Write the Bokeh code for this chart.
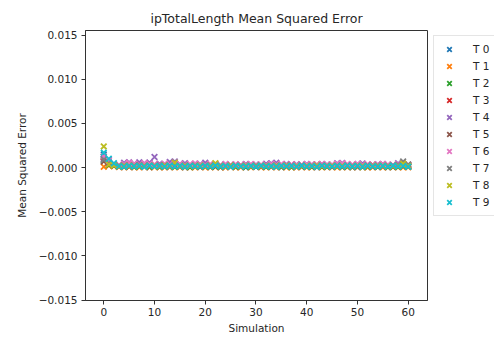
from bokeh.plotting import figure
from bokeh.layouts import row
from bokeh.models import Range1d, FixedTicker, CustomJSTickFormatter, Legend, LegendItem
from bokeh.embed import file_html
from bokeh.resources import INLINE

simulation = list(range(61))
labels = ["T 0", "T 1", "T 2", "T 3", "T 4", "T 5", "T 6", "T 7", "T 8", "T 9"]
colors = ["#1f77b4", "#ff7f0e", "#2ca02c", "#d62728", "#9467bd",
          "#8c564b", "#e377c2", "#7f7f7f", "#bcbd22", "#17becf"]

t0 = [0.00150, 0.00060, 0.00030, 0.00012, 0.00008, 0.00010, 0.00006, 0.00011, 0.00009, 0.00005,
      0.00012, 0.00007, 0.00010, 0.00006, 0.00009, 0.00011, 0.00004, 0.00008, 0.00010, 0.00006,
      0.00009, 0.00007, 0.00012, 0.00005, 0.00008, 0.00010, 0.00006, 0.00009, 0.00004, 0.00011,
      0.00008, 0.00006, 0.00010, 0.00007, 0.00009, 0.00005, 0.00012, 0.00008, 0.00006, 0.00010,
      0.00007, 0.00009, 0.00004, 0.00011, 0.00008, 0.00006, 0.00010, 0.00007, 0.00009, 0.00005,
      0.00008, 0.00011, 0.00006, 0.00009, 0.00007, 0.00010, 0.00005, 0.00008, 0.00006, 0.00012,
      0.00009]
t1 = [0.00010, 0.00020, 0.00015, 0.00006, 0.00004, 0.00008, 0.00005, 0.00003, 0.00007, 0.00004,
      0.00006, 0.00003, 0.00005, 0.00008, 0.00004, 0.00006, 0.00003, 0.00005, 0.00004, 0.00007,
      0.00003, 0.00005, 0.00006, 0.00004, 0.00003, 0.00007, 0.00005, 0.00004, 0.00006, 0.00003,
      0.00025, 0.00005, 0.00004, 0.00006, 0.00003, 0.00007, 0.00004, 0.00005, 0.00003, 0.00006,
      0.00004, 0.00005, 0.00007, 0.00003, 0.00006, 0.00004, 0.00005, 0.00003, 0.00007, 0.00004,
      0.00006, 0.00005, 0.00003, 0.00004, 0.00007, 0.00005, 0.00004, 0.00006, 0.00003, 0.00005,
      0.00004]
t2 = [0.00080, 0.00030, 0.00022, 0.00015, 0.00012, 0.00018, 0.00010, 0.00014, 0.00020, 0.00011,
      0.00016, 0.00009, 0.00013, 0.00017, 0.00010, 0.00015, 0.00012, 0.00008, 0.00014, 0.00011,
      0.00016, 0.00010, 0.00013, 0.00009, 0.00015, 0.00012, 0.00010, 0.00014, 0.00008, 0.00013,
      0.00011, 0.00016, 0.00009, 0.00012, 0.00014, 0.00010, 0.00013, 0.00008, 0.00015, 0.00011,
      0.00012, 0.00009, 0.00014, 0.00010, 0.00013, 0.00011, 0.00016, 0.00009, 0.00012, 0.00010,
      0.00014, 0.00008, 0.00013, 0.00011, 0.00010, 0.00015, 0.00009, 0.00012, 0.00010, 0.00014,
      0.00011]
t3 = [0.00120, 0.00050, 0.00035, 0.00020, 0.00030, 0.00045, 0.00025, 0.00040, 0.00030, 0.00050,
      0.00028, 0.00035, 0.00022, 0.00038, 0.00030, 0.00025, 0.00042, 0.00020, 0.00033, 0.00028,
      0.00036, 0.00024, 0.00030, 0.00021, 0.00034, 0.00026, 0.00030, 0.00023, 0.00037, 0.00025,
      0.00029, 0.00022, 0.00035, 0.00027, 0.00031, 0.00024, 0.00020, 0.00033, 0.00026, 0.00030,
      0.00023, 0.00028, 0.00035, 0.00021, 0.00030, 0.00026, 0.00032, 0.00024, 0.00029, 0.00022,
      0.00031, 0.00025, 0.00028, 0.00033, 0.00021, 0.00027, 0.00030, 0.00024, 0.00029, 0.00045,
      0.00026]
t4 = [0.00100, 0.00090, 0.00040, 0.00030, 0.00055, 0.00060, 0.00045, 0.00060, 0.00050, 0.00058,
      0.00120, 0.00045, 0.00035, 0.00065, 0.00070, 0.00040, 0.00050, 0.00030, 0.00045, 0.00040,
      0.00055, 0.00035, 0.00042, 0.00030, 0.00038, 0.00028, 0.00035, 0.00030, 0.00040, 0.00032,
      0.00036, 0.00030, 0.00045, 0.00050, 0.00055, 0.00035, 0.00040, 0.00032, 0.00038, 0.00030,
      0.00042, 0.00035, 0.00030, 0.00040, 0.00036, 0.00032, 0.00050, 0.00052, 0.00035, 0.00030,
      0.00040, 0.00048, 0.00036, 0.00030, 0.00038, 0.00042, 0.00033, 0.00030, 0.00050, 0.00036,
      0.00032]
t5 = [0.00070, 0.00040, 0.00025, 0.00018, 0.00022, 0.00015, 0.00020, 0.00025, 0.00017, 0.00021,
      0.00030, 0.00016, 0.00022, 0.00019, 0.00024, 0.00015, 0.00020, 0.00018, 0.00023, 0.00016,
      0.00021, 0.00019, 0.00017, 0.00022, 0.00015, 0.00020, 0.00018, 0.00023, 0.00016, 0.00021,
      0.00019, 0.00017, 0.00022, 0.00020, 0.00015, 0.00024, 0.00018, 0.00021, 0.00016, 0.00019,
      0.00022, 0.00017, 0.00020, 0.00018, 0.00023, 0.00016, 0.00021, 0.00019, 0.00017, 0.00022,
      0.00015, 0.00020, 0.00018, 0.00023, 0.00016, 0.00021, 0.00019, 0.00017, 0.00022, 0.00030,
      0.00018]
t6 = [0.00130, 0.00080, 0.00035, 0.00030, 0.00040, 0.00055, 0.00045, 0.00035, 0.00050, 0.00040,
      0.00038, 0.00030, 0.00045, 0.00035, 0.00050, 0.00042, 0.00032, 0.00040, 0.00048, 0.00035,
      0.00030, 0.00042, 0.00036, 0.00030, 0.00040, 0.00033, 0.00038, 0.00030, 0.00035, 0.00040,
      0.00032, 0.00036, 0.00030, 0.00042, 0.00035, 0.00040, 0.00030, 0.00037, 0.00033, 0.00030,
      0.00038, 0.00035, 0.00030, 0.00040, 0.00034, 0.00036, 0.00045, 0.00048, 0.00040, 0.00035,
      0.00042, 0.00033, 0.00038, 0.00030, 0.00036, 0.00040, 0.00033, 0.00030, 0.00038, 0.00035,
      0.00032]
t7 = [0.00090, 0.00050, 0.00030, 0.00020, 0.00025, 0.00018, 0.00022, 0.00028, 0.00020, 0.00024,
      0.00019, 0.00023, 0.00026, 0.00018, 0.00022, 0.00020, 0.00025, 0.00019, 0.00023, 0.00021,
      0.00018, 0.00024, 0.00020, 0.00022, 0.00019, 0.00025, 0.00021, 0.00018, 0.00023, 0.00020,
      0.00024, 0.00019, 0.00022, 0.00020, 0.00025, 0.00018, 0.00023, 0.00021, 0.00019, 0.00024,
      0.00020, 0.00022, 0.00018, 0.00025, 0.00021, 0.00019, 0.00023, 0.00020, 0.00024, 0.00018,
      0.00022, 0.00020, 0.00025, 0.00019, 0.00023, 0.00021, 0.00018, 0.00024, 0.00030, 0.00070,
      0.00035]
t8 = [0.00240, 0.00035, 0.00025, 0.00015, 0.00018, 0.00022, 0.00016, 0.00020, 0.00017, 0.00021,
      0.00019, 0.00016, 0.00022, 0.00018, 0.00055, 0.00017, 0.00020, 0.00016, 0.00019, 0.00021,
      0.00017, 0.00020, 0.00050, 0.00018, 0.00016, 0.00021, 0.00019, 0.00017, 0.00020, 0.00018,
      0.00016, 0.00022, 0.00019, 0.00017, 0.00020, 0.00018, 0.00021, 0.00016, 0.00019, 0.00017,
      0.00020, 0.00018, 0.00022, 0.00016, 0.00019, 0.00021, 0.00017, 0.00020, 0.00018, 0.00016,
      0.00021, 0.00019, 0.00017, 0.00020, 0.00018, 0.00022, 0.00016, 0.00019, 0.00017, 0.00045,
      0.00020]
t9 = [0.00170, 0.00100, 0.00050, 0.00015, 0.00010, 0.00020, 0.00012, 0.00018, 0.00010, 0.00022,
      0.00014, 0.00019, 0.00011, 0.00021, 0.00013, 0.00018, 0.00010, 0.00020, 0.00015, 0.00012,
      0.00019, 0.00011, 0.00022, 0.00013, 0.00017, 0.00010, 0.00020, 0.00014, 0.00012, 0.00019,
      0.00011, 0.00021, 0.00013, 0.00016, 0.00010, 0.00020, 0.00014, 0.00018, 0.00011, 0.00022,
      0.00013, 0.00017, 0.00010, 0.00020, 0.00015, 0.00012, 0.00019, 0.00011, 0.00021, 0.00013,
      0.00018, 0.00010, 0.00020, 0.00014, 0.00012, 0.00019, 0.00011, 0.00022, 0.00013, 0.00017,
      0.00010]

series = [t0, t1, t2, t3, t4, t5, t6, t7, t8, t9]
x_ticks = [0, 10, 20, 30, 40, 50, 60]
y_ticks = [-0.015, -0.010, -0.005, 0.0, 0.005, 0.010, 0.015]

FONT = "DejaVu Sans"
TEXT = "#262626"
LINE = "#333333"

p = figure(width=428, height=338, output_backend="svg", toolbar_location=None,
           x_range=Range1d(-3.6, 63.8), y_range=Range1d(-0.01505, 0.01553),
           title="ipTotalLength Mean Squared Error",
           x_axis_label="Simulation", y_axis_label="Mean Squared Error")
p.min_border_left = 85
p.min_border_right = 1
p.min_border_top = 29
p.min_border_bottom = 38
p.background_fill_color = "white"
p.border_fill_color = "white"
p.outline_line_color = LINE
p.outline_line_width = 1
p.grid.visible = False

p.title.align = "center"
p.title.text_font = FONT
p.title.text_font_size = "12.5px"
p.title.text_font_style = "normal"
p.title.text_color = TEXT

for ax in (p.xaxis[0], p.yaxis[0]):
    ax.axis_line_color = LINE
    ax.major_tick_line_color = LINE
    ax.major_tick_out = 4
    ax.major_tick_in = 0
    ax.minor_tick_line_color = None
    ax.major_label_text_font = FONT
    ax.major_label_text_font_size = "10.5px"
    ax.major_label_text_color = TEXT
    ax.axis_label_text_font = FONT
    ax.axis_label_text_font_size = "10.5px"
    ax.axis_label_text_font_style = "normal"
    ax.axis_label_text_color = TEXT

p.xaxis.ticker = FixedTicker(ticks=x_ticks)
p.yaxis.ticker = FixedTicker(ticks=y_ticks)
p.xaxis.major_label_standoff = 3
p.xaxis.axis_label_standoff = 3
p.yaxis.major_label_standoff = 4
p.yaxis.axis_label_standoff = 8
p.yaxis.formatter = CustomJSTickFormatter(
    code="var v = Math.abs(tick) < 1e-12 ? 0 : tick; return (v < 0 ? '\\u2212' : '') + Math.abs(v).toFixed(3);")

for col, vals in zip(colors, series):
    p.scatter(simulation, vals, marker="x", size=8, line_width=1.8, line_color=col)

# legend panel to the right of the axes (legend-only renderers sit outside its visible range)
pl = figure(width=66, height=338, output_backend="svg", toolbar_location=None,
            x_range=Range1d(0, 1), y_range=Range1d(0, 1), x_axis_location=None, y_axis_location=None)
pl.grid.visible = False
pl.outline_line_color = None
pl.min_border_left = 0
pl.min_border_right = 0
pl.min_border_top = 30
pl.min_border_bottom = 0
pl.border_fill_color = "white"
items = []
for lab, col in zip(labels, colors):
    r = pl.scatter([-5], [-5], marker="x", size=8, line_width=1.8, line_color=col)
    items.append(LegendItem(label=lab, renderers=[r]))

lg = Legend(items=items, location="top_left")
lg.label_text_font = FONT
lg.label_text_font_size = "10.5px"
lg.label_text_color = TEXT
lg.label_height = 16
lg.glyph_height = 16
lg.glyph_width = 20
lg.label_standoff = 14
lg.spacing = 1
lg.padding = 5
lg.margin = 5
lg.border_line_color = "#cccccc"
lg.border_line_width = 1
lg.background_fill_color = "white"
lg.background_fill_alpha = 0.8
pl.add_layout(lg, "center")

layout = row(p, pl, spacing=0)
open("out.html", "w").write(file_html(layout, INLINE))
